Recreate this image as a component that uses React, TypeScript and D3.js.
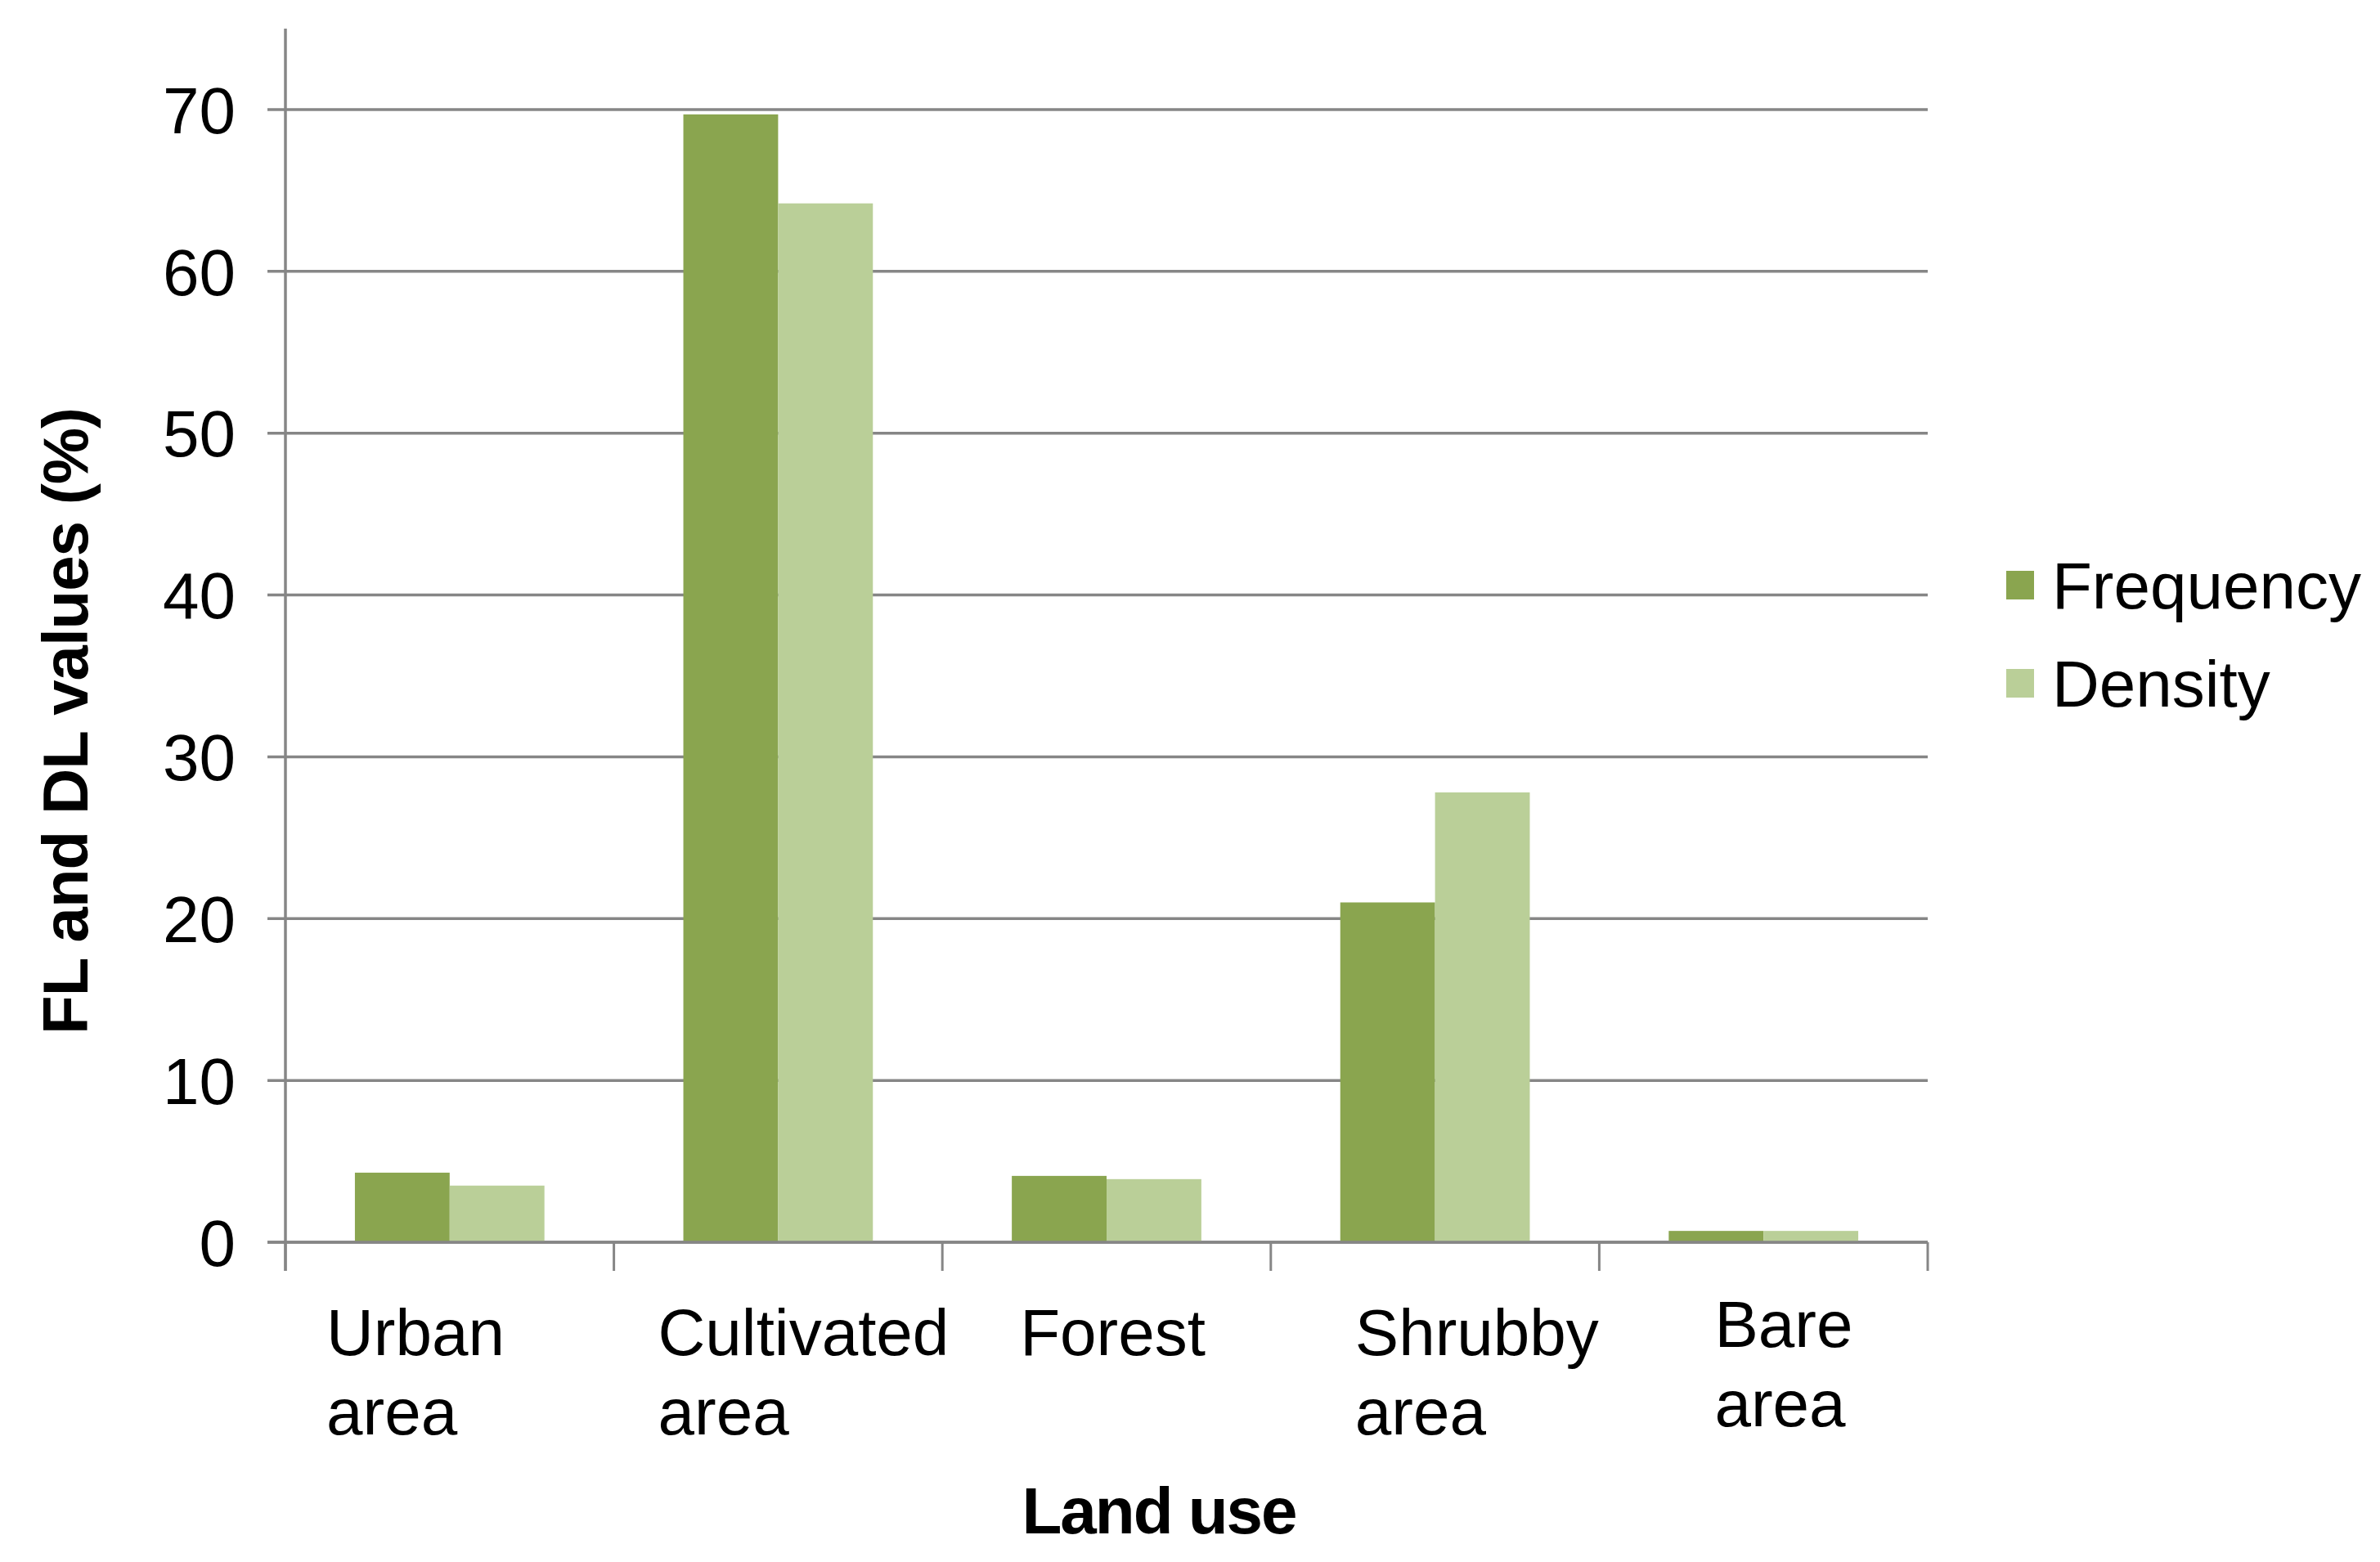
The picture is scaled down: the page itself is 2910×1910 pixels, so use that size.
import React, { useEffect, useRef } from "react";
import * as d3 from "d3";

const categories = ["Urban area", "Cultivated area", "Forest", "Shrubby area", "Bare area"];
const categoryLines = [["Urban", "area"], ["Cultivated", "area"], ["Forest"], ["Shrubby", "area"], ["Bare", "area"]];
const seriesNames = ["Frequency", "Density"];
const frequencyValues = [4.3, 69.7, 4.1, 21.0, 0.7];
const densityValues = [3.5, 64.2, 3.9, 27.8, 0.7];
const yTicks = [0, 10, 20, 30, 40, 50, 60, 70];

const W = 2910, H = 1910;
const M = { left: 349, right: 2357, top: 35, bottom: 1519 };
const COLORS = ["#8AA54F", "#BACF98"];
const GRID = "#868686";
const FONT = "'Liberation Sans', Arial, sans-serif";
// label block left offsets relative to band start, and vertical shifts
const labelDx = [50, 54, 95, 103, 141];
const labelDy = [0, 0, 0, 0, -10];

export default function App() {
  const ref = useRef<SVGSVGElement>(null);
  useEffect(() => {
    const svg = d3.select(ref.current);
    svg.selectAll("*").remove();
    const x = d3.scaleBand<string>().domain(categories).range([M.left, M.right]).paddingInner(0).paddingOuter(0);
    const xs = d3.scaleBand<string>().domain(seriesNames).range([0, x.bandwidth()]).paddingInner(0).paddingOuter(0.733);
    const y = d3.scaleLinear().domain([0, 75]).range([M.bottom, M.top]);

    // gridlines + y ticks
    const g = svg.append("g");
    yTicks.forEach((t) => {
      g.append("line").attr("x1", M.left - 22).attr("x2", M.right).attr("y1", y(t)).attr("y2", y(t))
        .attr("stroke", GRID).attr("stroke-width", 3.5);
      g.append("text").attr("x", 288).attr("y", y(t)).attr("dy", "0.36em").attr("text-anchor", "end")
        .attr("font-family", FONT).attr("font-size", 80).attr("fill", "#000").text(String(t));
    });

    // bars
    const series = [frequencyValues, densityValues];
    series.forEach((vals, si) => {
      svg.append("g").selectAll("rect").data(vals).join("rect")
        .attr("x", (_d, i) => (x(categories[i]) as number) + (xs(seriesNames[si]) as number))
        .attr("width", xs.bandwidth())
        .attr("y", (d) => y(d))
        .attr("height", (d) => y(0) - y(d))
        .attr("fill", COLORS[si]);
    });

    // axes lines
    svg.append("line").attr("x1", M.left).attr("x2", M.left).attr("y1", y(75)).attr("y2", M.bottom + 35)
      .attr("stroke", GRID).attr("stroke-width", 3.5);
    svg.append("line").attr("x1", M.left - 22).attr("x2", M.right).attr("y1", y(0)).attr("y2", y(0))
      .attr("stroke", GRID).attr("stroke-width", 3.5);
    const bounds = categories.map((c) => x(c) as number).concat([M.right]);
    bounds.forEach((bx) => {
      svg.append("line").attr("x1", bx).attr("x2", bx).attr("y1", y(0)).attr("y2", y(0) + 35)
        .attr("stroke", GRID).attr("stroke-width", 3);
    });

    // category labels
    categoryLines.forEach((lines, i) => {
      const t = svg.append("text").attr("font-family", FONT).attr("font-size", 80).attr("fill", "#000");
      lines.forEach((ln, li) => {
        t.append("tspan").attr("x", (x(categories[i]) as number) + labelDx[i])
          .attr("y", 1657 + labelDy[i] + li * 97).text(ln);
      });
    });

    // axis titles
    svg.append("text").attr("x", 1417).attr("y", 1875).attr("text-anchor", "middle")
      .attr("font-family", FONT).attr("font-size", 80).attr("font-weight", "bold").attr("letter-spacing", -2)
      .text("Land use");
    svg.append("text").attr("transform", "translate(107,882) rotate(-90)").attr("text-anchor", "middle")
      .attr("font-family", FONT).attr("font-size", 78).attr("font-weight", "bold").attr("letter-spacing", -1)
      .text("FL and DL values (%)");

    // legend
    seriesNames.forEach((s, i) => {
      const ly = 715 + i * 120;
      svg.append("rect").attr("x", 2453).attr("y", ly - 17).attr("width", 34).attr("height", 35).attr("fill", COLORS[i]);
      svg.append("text").attr("x", 2509).attr("y", ly).attr("dy", "0.36em").attr("font-family", FONT)
        .attr("font-size", 80).attr("fill", "#000").text(s);
    });
  }, []);
  return (
    <div style={{ position: "absolute", left: 0, top: 0 }}>
      <svg ref={ref} width={W} height={H} style={{ display: "block", background: "#fff" }} />
    </div>
  );
}
